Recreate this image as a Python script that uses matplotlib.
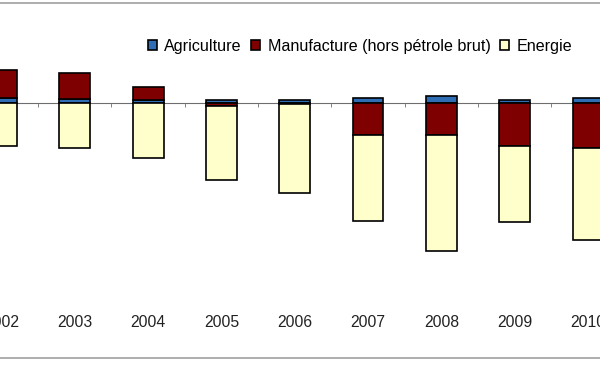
import numpy as np
import matplotlib
matplotlib.use("Agg")
import matplotlib.pyplot as plt
from matplotlib.lines import Line2D

# annees (2002 et 2010 coupees par le cadrage)
years = ["2002", "2003", "2004", "2005", "2006", "2007", "2008", "2009", "2010"]

# soldes (unite arbitraire)
agriculture = [0.5, 0.4, 0.3, 0.3, 0.3, 0.5, 0.7, 0.3, 0.5]
manufacture = [2.8, 2.6, 1.3, -0.3, -0.1, -3.2, -3.2, -4.3, -4.5]
energie = [-4.3, -4.5, -5.5, -7.4, -8.9, -8.6, -11.6, -7.6, -9.2]

series = [("Agriculture", agriculture, "#2F6DB5"),
          ("Manufacture (hors pétrole brut)", manufacture, "#7E0000"),
          ("Energie", energie, "#FFFFCC")]

plt.rcParams["font.family"] = ["Liberation Sans", "DejaVu Sans"]

fig = plt.figure(figsize=(6, 3.72), dpi=100)
fig.patch.set_facecolor("white")
ax = fig.add_axes([0, 67 / 372, 1, 285 / 372])

x = np.arange(len(years))
pos = np.zeros(len(years))
neg = np.zeros(len(years))
for name, vals, col in series:
    v = np.array(vals)
    bottom = np.where(v >= 0, pos, neg)
    ax.bar(x, v, 0.42, bottom=bottom, color=col, edgecolor="black",
           linewidth=1.2, label=name, zorder=3)
    pos = pos + np.where(v >= 0, v, 0)
    neg = neg + np.where(v < 0, v, 0)

ax.set_xlim(-0.0205, 8.164)
ax.set_ylim(-20.23, 8.27)

# axe horizontal sur zero, petites graduations entre les annees
for s in ["top", "right", "left"]:
    ax.spines[s].set_visible(False)
ax.spines["bottom"].set_position(("data", 0))
ax.spines["bottom"].set_color("#6E6E6E")
ax.spines["bottom"].set_zorder(2)
ax.set_yticks([])
ax.set_xticks(x)
ax.set_xticklabels([])
ax.set_xticks(x[:-1] + 0.5, minor=True)
ax.tick_params(axis="x", which="major", length=0)
ax.tick_params(axis="x", which="minor", length=3, direction="out", color="#6E6E6E")

# etiquettes en bas de la zone de trace
sec = ax.secondary_xaxis("bottom")
sec.set_xticks(x)
sec.set_xticklabels(years, fontsize=11.3, color="#222222")
sec.tick_params(length=0, pad=7)
sec.spines["bottom"].set_visible(False)

ax.legend(loc="center", bbox_to_anchor=(360 / 600, 1 - 46.5 / 372),
          bbox_transform=fig.transFigure, ncol=3, frameon=False,
          fontsize=11.6, handlelength=0.55, handleheight=0.55,
          handletextpad=0.45, columnspacing=0.6)

# cadre gris du graphique
for yy in [1 - 2.7 / 372, 1 - 358.3 / 372]:
    fig.add_artist(Line2D([0, 1], [yy, yy], transform=fig.transFigure,
                          color="#A0A0A0", linewidth=1.2))

fig.savefig("out.png", dpi=100, facecolor="white")
